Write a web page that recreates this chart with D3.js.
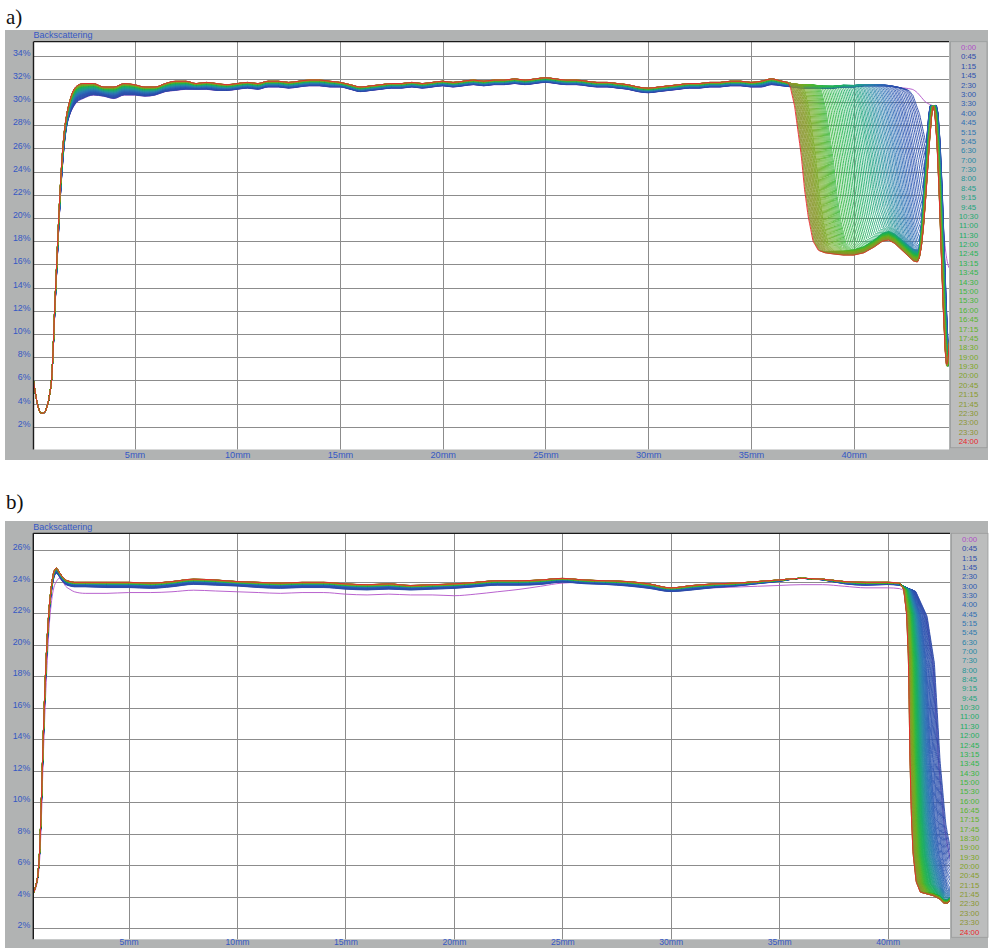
<!DOCTYPE html>
<html><head><meta charset="utf-8">
<script src="https://cdn.jsdelivr.net/npm/d3@7"></script>
<style>body{margin:0;background:#fff}svg{display:block}</style>
</head><body><svg id="c" width="990" height="948"></svg>
<script>
// ---------------- DATA ----------------
const legendLabels = ["0:00","0:45","1:15","1:45","2:30","3:00","3:30","4:00","4:45","5:15","5:45","6:30","7:00","7:30","8:00","8:45","9:15","9:45","10:30","11:00","11:30","12:00","12:45","13:15","13:45","14:30","15:00","15:30","16:00","16:45","17:15","17:45","18:30","19:00","19:30","20:00","20:45","21:15","21:45","22:30","23:00","23:30","24:00"];
const xTickLabels = ["5mm","10mm","15mm","20mm","25mm","30mm","35mm","40mm"];
const xTickValues = [5,10,15,20,25,30,35,40];
const yTicksA = [2,4,6,8,10,12,14,16,18,20,22,24,26,28,30,32,34];
const yTicksB = [2,4,6,8,10,12,14,16,18,20,22,24,26];

// curve colours (time in h -> colour)
const colorTimes = [0.25, 3, 5, 7, 9, 11, 13, 15, 17, 19, 21, 23.75];
const colorHex = ["#2c48a8","#2f58b2","#2e72b4","#2a8aa6","#22a088","#1eac6a","#28b452","#3cb83e","#5cb42c","#78aa24","#889c2c","#8e9436"];
const colorStart = "#b050c8", colorEnd = "#e8252a";

// Panel a: plateau profile (x in mm, values in %)
const xPlatA = [0.08,0.15,0.31,0.48,0.6,0.72,0.88,0.96,1.04,1.1,1.2,1.3,1.4,1.5,1.6,1.7,1.85,2.0,2.2,
 2.5,3,3.5,4,4.5,5,5.5,6,6.5,7,7.5,8,8.5,9,9.5,10,10.5,11,11.5,12,12.5,13,13.5,14,14.5,15,15.5,16,16.5,17,17.5,18,18.5,19,19.5,20,20.5,21,21.5,22,22.5,23,23.5,24,24.5,25,25.5,26,26.5,27,27.5,28,28.5,29,29.5,30,30.5,31,31.5,32,32.5,33,33.5,34,34.5,35,35.5,36,36.5,37,37.5,38,38.5,39,39.5,40,40.5,41,41.5,42,42.5,43];
const latePlatA = [6.0,5.2,3.7,3.15,3.2,3.6,4.9,6.0,8.6,11.5,15.5,19.5,23.0,25.8,27.7,28.9,30.1,30.9,31.4,
 31.6,31.6,31.3,31.3,31.6,31.5,31.3,31.3,31.6,31.8,31.8,31.6,31.7,31.6,31.5,31.6,31.7,31.6,31.8,31.8,31.7,31.8,31.9,31.9,31.8,31.7,31.5,31.3,31.4,31.5,31.6,31.6,31.7,31.6,31.7,31.8,31.7,31.8,31.9,31.8,31.9,31.9,32.0,31.9,32.0,32.1,32.0,31.9,31.9,31.8,31.7,31.7,31.6,31.5,31.3,31.2,31.3,31.4,31.5,31.6,31.6,31.7,31.7,31.8,31.8,31.7,31.8,32.0,31.8,31.6,31.5,31.5,31.4,31.4,31.5,31.5,31.6,31.6,31.6,31.5,31.3,31.0];
const earlyPlatA = [6.0,5.2,3.7,3.15,3.2,3.6,4.9,6.0,8.4,11.0,14.8,18.6,22.0,24.6,26.6,27.9,28.9,29.5,30.0,
 30.3,30.6,30.5,30.3,30.6,30.6,30.5,30.6,30.9,31.0,31.1,31.1,31.1,31.0,31.0,31.1,31.2,31.1,31.3,31.3,31.2,31.3,31.4,31.4,31.3,31.3,31.1,30.9,31.0,31.1,31.2,31.2,31.3,31.2,31.3,31.4,31.3,31.4,31.5,31.4,31.5,31.5,31.6,31.5,31.6,31.7,31.6,31.5,31.5,31.4,31.3,31.3,31.2,31.1,30.9,30.8,30.9,31.0,31.1,31.2,31.2,31.3,31.3,31.4,31.4,31.3,31.3,31.5,31.4,31.3,31.2,31.2,31.2,31.2,31.3,31.3,31.4,31.4,31.4,31.3,31.1,30.8];
// Panel a: front position (mm) of each 15-min curve, 0:00 .. 24:00
const frontA = [42.85,42.70,42.62,42.53,42.45,42.36,42.28,42.19,42.10,42.02,41.95,41.87,41.80,41.72,41.65,41.57,41.50,41.43,41.36,41.29,41.22,41.15,41.09,41.02,40.95,40.88,40.82,40.75,40.68,40.62,40.55,40.49,40.42,40.36,40.29,40.23,40.16,40.10,40.03,39.97,39.90,39.82,39.74,39.66,39.58,39.50,39.42,39.34,39.26,39.18,39.10,39.02,38.94,38.86,38.78,38.70,38.62,38.54,38.46,38.38,38.30,38.25,38.20,38.15,38.10,38.05,38.00,37.95,37.90,37.85,37.80,37.75,37.70,37.65,37.60,37.55,37.50,37.47,37.43,37.40,37.36,37.33,37.29,37.26,37.22,37.19,37.15,37.12,37.08,37.05,37.01,36.98,36.94,36.91,36.87,36.84,36.80];
const dropUA = [0,0.08,0.22,0.44,0.55,0.67,0.83,1.0];
const dropFA = [1,0.97,0.85,0.54,0.33,0.17,0.03,0];
const xFloorA = [36.5,37.5,38.0,38.3,38.6,39.0,39.5,40.0,40.5,41.0,41.4,41.7,42.0,42.3,42.6,42.9,43.1,43.3,44.0];
const floorA = [18.5,18.0,17.6,17.2,17.0,16.9,16.8,16.8,17.0,17.5,18.0,18.1,17.8,17.3,16.8,16.3,16.2,16.4,16.4];
const xSpikeA = [43.1,43.2,43.3,43.4,43.5,43.6,43.7,43.8,43.87,43.95,44.05,44.15,44.25,44.35,44.45,44.52,44.6,44.7];
const spikeA = [16.2,16.6,17.6,19.3,21.6,24.2,26.8,28.9,29.7,29.0,26.5,22.5,17.5,12.5,8.6,7.2,8.0,10.5];
const xPurpleEndA = [42.5,42.85,43.1,43.3,43.5,43.7,43.9,44.05,44.2,44.35,44.5,44.6,44.7];
const purpleEndA = [31.2,31.1,30.8,30.4,30.0,29.8,29.6,27.5,23.5,19.5,16.8,15.9,15.6];
const widthTimesA = [0,4,10,24], widthValsA = [2.3,2.05,1.7,1.47];
const floorOffTimesA = [0,6,12,24], floorOffValsA = [1.3,1.0,0.6,0];
const blendTimesA = [0,2,6,12,24], blendValsA = [0,0.2,0.5,0.8,1];
const spikeShiftTimesA = [0,6,24], spikeShiftLA = [0.15,0.09,0], spikeShiftRA = [0.16,0.1,0];

// Panel b
const xPlatB = [0.6,0.68,0.75,0.83,0.9,0.98,1.05,1.15,1.25,1.33,1.45,1.55,1.67,1.8,1.95,2.1,2.3,2.5,
 3,4,5,6,7,8,9,10,11,12,13,14,15,16,17,18,19,20,21,22,23,24,25,26,27,28,29,30,31,32,33,34,35,36,37,38,39,40,40.55];
const latePlatB = [4.2,4.5,4.85,5.6,7.0,10.2,13.5,17.5,20.5,22.2,23.8,24.6,24.85,24.6,24.3,24.1,24.0,23.95,
 23.95,23.95,23.95,23.9,24.0,24.15,24.1,24.0,23.95,23.9,23.95,23.95,23.85,23.8,23.85,23.75,23.8,23.85,23.95,24.05,24.05,24.1,24.2,24.1,24.05,24.0,23.85,23.6,23.75,23.85,23.9,24.0,24.1,24.2,24.15,24.0,23.95,23.95,23.9];
const earlyPlatB = [4.2,4.5,4.8,5.5,6.8,9.8,13.0,17.0,20.0,21.8,23.4,24.2,24.5,24.3,24.0,23.8,23.7,23.65,
 23.65,23.6,23.6,23.55,23.65,23.8,23.75,23.7,23.6,23.55,23.6,23.6,23.5,23.45,23.5,23.45,23.5,23.55,23.65,23.75,23.75,23.8,23.95,23.85,23.8,23.7,23.55,23.35,23.45,23.6,23.7,23.85,24.0,24.2,24.1,23.85,23.75,23.8,23.75];
const purplePlatB = [4.2,4.4,4.7,5.3,6.4,9.0,12.2,16.0,19.0,21.0,22.8,23.6,24.0,24.2,24.0,23.7,23.5,23.35,
 23.25,23.25,23.3,23.3,23.35,23.45,23.4,23.35,23.3,23.25,23.3,23.3,23.2,23.15,23.2,23.15,23.15,23.1,23.2,23.35,23.5,23.7,23.9,23.95,23.9,23.85,23.7,23.45,23.55,23.6,23.65,23.7,23.75,23.8,23.8,23.7,23.6,23.6,23.55];
const frontB = [42.35,42.42,42.39,42.35,42.31,42.27,42.23,42.19,42.15,42.11,42.08,42.04,42.00,41.97,41.95,41.92,41.90,41.87,41.85,41.82,41.80,41.78,41.76,41.74,41.72,41.70,41.69,41.67,41.65,41.63,41.62,41.60,41.58,41.57,41.55,41.54,41.52,41.51,41.50,41.48,41.47,41.46,41.45,41.44,41.43,41.42,41.40,41.39,41.38,41.37,41.36,41.35,41.34,41.33,41.32,41.31,41.30,41.29,41.28,41.28,41.27,41.26,41.25,41.24,41.24,41.23,41.22,41.21,41.21,41.20,41.19,41.19,41.18,41.17,41.16,41.16,41.15,41.14,41.13,41.13,41.12,41.11,41.10,41.10,41.09,41.08,41.08,41.07,41.06,41.06,41.05,41.05,41.04,41.04,41.03,41.03,41.03];
const dropStartB = 40.55;
const dropUB = [0,0.4,0.68,0.86,1.0,1.14,1.3,1.6,2.0,4.0];
const dropFB = [1,0.98,0.9,0.75,0.44,0.25,0.13,0.04,0.01,0];
const xFloorB = [40.55,41.2,41.5,41.8,42.1,42.4,42.6,42.75,42.9];
const floorB = [4.3,4.2,4.1,4.05,4.0,3.85,3.6,3.6,3.8];
const blendTimesB = [0,2,6,24], blendValsB = [0,0.4,0.7,1];

// ---------------- DRAWING ----------------
const svg = d3.select("#c");
const FRAME = "#b1b3b3", LEGBG = "#bcbdbd", GRID = "#8c8c8c", AXISTXT = "#3558c4";
const lin = (xs, ys) => d3.scaleLinear().domain(xs).range(ys).clamp(true);
const colorScale = d3.scaleLinear().domain(colorTimes).range(colorHex).interpolate(d3.interpolateRgb).clamp(true);
const curveTimes = d3.range(97).map(k => k / 4);
function colorFor(t) { return t === 0 ? colorStart : (t === 24 ? colorEnd : colorScale(t)); }
function labelTime(s) { const [h, m] = s.split(":").map(Number); return h + m / 60; }

function drawPanel(cfg) {
  const g = svg.append("g");
  g.append("rect").attr("x", cfg.frame[0]).attr("y", cfg.frame[1]).attr("width", cfg.frame[2]).attr("height", cfg.frame[3]).attr("fill", FRAME);
  g.append("rect").attr("x", cfg.left).attr("y", cfg.top).attr("width", cfg.right - cfg.left).attr("height", cfg.bottom - cfg.top).attr("fill", "#fff");
  g.append("rect").attr("x", cfg.right + 1.5).attr("y", cfg.top).attr("width", 36.5).attr("height", cfg.legH)
    .attr("fill", LEGBG).attr("stroke", "#9a9c9c").attr("stroke-width", 0.8);
  g.append("text").attr("x", 6).attr("y", cfg.titleY).text(cfg.title)
    .attr("font-family", "Liberation Serif, Times New Roman, serif").attr("font-size", 21).attr("fill", "#111");
  g.append("text").attr("x", cfg.left).attr("y", cfg.top - 3.5).text("Backscattering")
    .attr("font-family", "Liberation Sans, Arial, sans-serif").attr("font-size", 9).attr("fill", AXISTXT);

  const x = d3.scaleLinear().domain([5, 40]).range(cfg.xr);
  const y = d3.scaleLinear().domain(cfg.yd).range(cfg.yr);

  g.append("g").selectAll("line").data(cfg.yTicks).join("line")
    .attr("x1", cfg.left).attr("x2", cfg.right).attr("y1", d => Math.round(y(d)) + 0.5).attr("y2", d => Math.round(y(d)) + 0.5)
    .attr("stroke", GRID).attr("stroke-width", 1);
  g.append("g").selectAll("line").data(xTickValues).join("line")
    .attr("y1", cfg.top).attr("y2", cfg.bottom).attr("x1", d => Math.round(x(d)) + 0.5).attr("x2", d => Math.round(x(d)) + 0.5)
    .attr("stroke", GRID).attr("stroke-width", 1);

  const yAxis = d3.axisLeft(y).tickValues(cfg.yTicks).tickFormat(d => d + "%").tickSize(0).tickPadding(3);
  const ya = g.append("g").attr("transform", `translate(${cfg.left},0)`).call(yAxis);
  ya.select(".domain").remove();
  ya.selectAll("text").attr("font-family", "Liberation Sans, Arial, sans-serif").attr("font-size", 8.8).attr("fill", AXISTXT).attr("dy", "-0.05em");
  const xAxis = d3.axisBottom(x).tickValues(xTickValues).tickFormat((d, i) => xTickLabels[i]).tickSize(0).tickPadding(cfg.xPad);
  const xa = g.append("g").attr("transform", `translate(0,${cfg.bottom})`).call(xAxis);
  xa.select(".domain").remove();
  xa.selectAll("text").attr("font-family", "Liberation Sans, Arial, sans-serif").attr("font-size", cfg.xFont).attr("fill", AXISTXT);

  const clipId = "clip" + cfg.title.replace(/\W/g, "");
  g.append("clipPath").attr("id", clipId).append("rect").attr("x", cfg.left).attr("y", cfg.top).attr("width", cfg.right - cfg.left).attr("height", cfg.bottom - cfg.top);
  const line = d3.line().x(d => x(d[0])).y(d => y(d[1])).curve(d3.curveMonotoneX);
  const cg = g.append("g").attr("clip-path", `url(#${clipId})`);
  cfg.order.forEach(k => {
    cg.append("path").attr("d", line(cfg.curve(k))).attr("fill", "none")
      .attr("stroke", colorFor(curveTimes[k])).attr("stroke-width", 0.9);
  });

  g.append("line").attr("x1", cfg.left).attr("x2", cfg.left).attr("y1", cfg.top).attr("y2", cfg.bottom).attr("stroke", "#1a1a1a").attr("stroke-width", 1.4);
  g.append("line").attr("x1", cfg.left).attr("x2", cfg.right).attr("y1", cfg.top).attr("y2", cfg.top).attr("stroke", "#1a1a1a").attr("stroke-width", 1.2);

  g.append("g").selectAll("text").data(legendLabels).join("text")
    .attr("x", cfg.right + 19.5).attr("y", (d, i) => cfg.leg0 + i * cfg.legStep + 2.8)
    .attr("text-anchor", "middle").attr("font-family", "Liberation Sans, Arial, sans-serif").attr("font-size", 7.8)
    .attr("fill", d => colorFor(labelTime(d))).text(d => d);
}

// ---- curve builders ----
const eLateA = lin(xPlatA, latePlatA), eEarlyA = lin(xPlatA, earlyPlatA);
const eFloorA = lin(xFloorA, floorA), eSpikeA = lin(xSpikeA, spikeA), eDropA = lin(dropUA, dropFA);
const eWidthA = lin(widthTimesA, widthValsA), eOffA = lin(floorOffTimesA, floorOffValsA), eBlendA = lin(blendTimesA, blendValsA);
const eShiftLA = lin(spikeShiftTimesA, spikeShiftLA), eShiftRA = lin(spikeShiftTimesA, spikeShiftRA);
const peakA = xSpikeA[spikeA.indexOf(d3.max(spikeA))], peakValA = d3.max(spikeA);
function curveA(k) {
  const t = curveTimes[k], d = frontA[k], b = eBlendA(t);
  const P = xx => eEarlyA(xx) + (eLateA(xx) - eEarlyA(xx)) * b;
  const pts = [];
  if (k === 0) {
    xPlatA.forEach(xx => { if (xx < xPurpleEndA[0]) pts.push([xx, P(xx)]); });
    xPurpleEndA.forEach((xx, i) => pts.push([xx, purpleEndA[i]]));
    return pts;
  }
  xPlatA.forEach(xx => { if (xx < d) pts.push([xx, P(xx)]); });
  const pd = P(d), w = eWidthA(t), off = eOffA(t), sL = eShiftLA(t), sR = eShiftRA(t);
  for (let xx = d; xx <= 44.72; xx += 0.03) {
    let v;
    if (xx <= peakA - sL) {
      const F = eFloorA(xx) + off;
      v = F + (pd - F) * eDropA((xx - d) / w);
      if (xx + sL >= xSpikeA[0]) v = Math.max(v, eSpikeA(xx + sL));
    } else if (xx <= peakA + sR) v = peakValA - (t < 6 ? 0 : 0.3);
    else v = eSpikeA(xx - sR);
    pts.push([xx, v]);
  }
  return pts;
}
const eLateB = lin(xPlatB, latePlatB), eEarlyB = lin(xPlatB, earlyPlatB), ePurB = lin(xPlatB, purplePlatB);
const eFloorB = lin(xFloorB, floorB), eDropB = lin(dropUB, dropFB), eBlendB = lin(blendTimesB, blendValsB);
function curveB(k) {
  const t = curveTimes[k], fr = frontB[k], b = eBlendB(t);
  const P = k === 0 ? ePurB : (xx => eEarlyB(xx) + (eLateB(xx) - eEarlyB(xx)) * b);
  const pts = [];
  xPlatB.forEach(xx => { if (xx < dropStartB) pts.push([xx, P(xx)]); });
  const p0 = P(dropStartB);
  for (let xx = dropStartB; xx <= 42.9; xx += 0.02) {
    const F = eFloorB(xx);
    pts.push([xx, F + (p0 - F) * eDropB((xx - dropStartB) / (fr - dropStartB))]);
  }
  return pts;
}

const orderAll = d3.range(97);
drawPanel({
  title: "a)", titleY: 24, frame: [5, 30, 983, 430], left: 33.5, top: 41.7, right: 949, bottom: 449.5,
  xr: [134.5, 853.7], yd: [2, 34], yr: [426.7, 55.7], yTicks: yTicksA, xPad: 2, xFont: 9.2,
  legH: 406, leg0: 47.3, legStep: 9.38, curve: curveA, order: orderAll
});
drawPanel({
  title: "b)", titleY: 509, frame: [5, 521, 983, 430], left: 33.3, top: 533.3, right: 950, bottom: 939.3,
  xr: [128.6, 887.6], yd: [2, 26], yr: [928.3, 550], yTicks: yTicksB, xPad: 0, xFont: 8.6,
  legH: 404, leg0: 539, legStep: 9.35, curve: curveB, order: orderAll
});
</script></body></html>
